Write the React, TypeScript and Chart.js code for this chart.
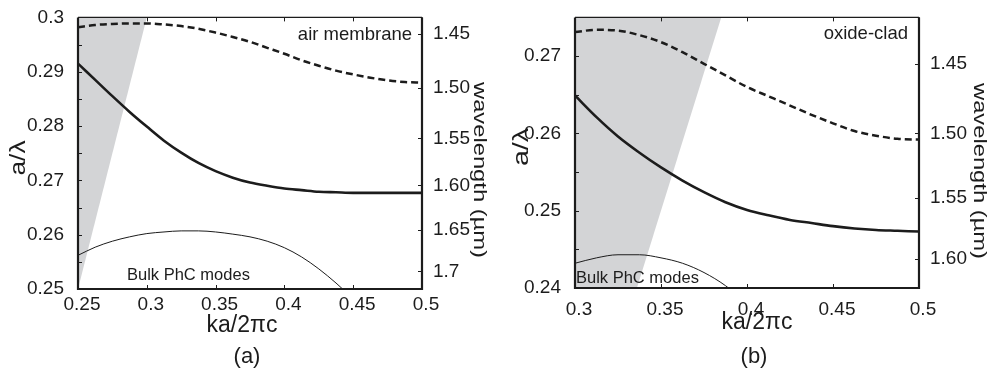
import React, { useEffect, useRef } from "react";
import { Chart, registerables } from "chart.js";

Chart.register(...registerables);

const FONT = "'Liberation Sans', Arial, Helvetica, sans-serif";
const INK = "#1c1c1c";
const GREY = "#d3d4d6";

// ---------- panel (a): air membrane ----------
const kA = [0.25, 0.2625, 0.275, 0.2875, 0.3, 0.3125, 0.325, 0.3375, 0.35, 0.3625, 0.375, 0.3875, 0.4, 0.4125, 0.425, 0.4375, 0.45, 0.4625, 0.475, 0.4875, 0.5];
const upperA = [0.2982, 0.2986, 0.2988, 0.2989, 0.2989, 0.2987, 0.2984, 0.2979, 0.2972, 0.2964, 0.2955, 0.2944, 0.2933, 0.2921, 0.2911, 0.2902, 0.2895, 0.2889, 0.2884, 0.2881, 0.288];
const lowerA = [0.2915, 0.2885, 0.2855, 0.2826, 0.2799, 0.2773, 0.2751, 0.2732, 0.2717, 0.2705, 0.2696, 0.269, 0.2685, 0.2682, 0.2679, 0.2678, 0.2677, 0.2677, 0.2677, 0.2677, 0.2677];
const bulkKA = [0.25, 0.2625, 0.275, 0.2875, 0.3, 0.3125, 0.325, 0.3375, 0.35, 0.3625, 0.375, 0.3875, 0.4, 0.4125, 0.425, 0.4375, 0.45];
const bulkA = [0.2562, 0.2577, 0.2588, 0.2596, 0.2602, 0.2605, 0.2607, 0.2607, 0.2605, 0.2601, 0.2596, 0.2588, 0.2576, 0.2559, 0.2537, 0.2511, 0.2482];
const lightKA = [0.25, 0.3];
const lightFA = [0.25, 0.3];
const xTicksA = [0.25, 0.3, 0.35, 0.4, 0.45, 0.5];
const xLabelsA = ["0.25", "0.3", "0.35", "0.4", "0.45", "0.5"];
const yTicksA = [0.25, 0.26, 0.27, 0.28, 0.29, 0.3];
const yLabelsA = ["0.25", "0.26", "0.27", "0.28", "0.29", "0.3"];
const yMarksA = [0.25, 0.255, 0.26, 0.265, 0.27, 0.275, 0.28, 0.285, 0.29, 0.295, 0.3];
const wlA = [1.45, 1.5, 1.55, 1.6, 1.65, 1.7];
const wlLabelsA = ["1.45", "1.50", "1.55", "1.60", "1.65", "1.7"];
const latticeA = 0.4305;

// ---------- panel (b): oxide-clad ----------
const kB = [0.3, 0.3125, 0.325, 0.3375, 0.35, 0.3625, 0.375, 0.3875, 0.4, 0.4125, 0.425, 0.4375, 0.45, 0.4625, 0.475, 0.4875, 0.5];
const upperB = [0.2731, 0.2734, 0.2733, 0.2727, 0.2718, 0.2705, 0.269, 0.2675, 0.266, 0.2648, 0.2636, 0.2624, 0.2613, 0.2603, 0.2597, 0.2593, 0.2592];
const lowerB = [0.2649, 0.2621, 0.2596, 0.2575, 0.2556, 0.2539, 0.2524, 0.2511, 0.2501, 0.2494, 0.2488, 0.2484, 0.248, 0.2477, 0.2475, 0.2474, 0.2473];
const bulkKB = [0.3, 0.3125, 0.325, 0.3375, 0.35, 0.3625, 0.375, 0.3875, 0.4];
const bulkB = [0.2432, 0.2439, 0.2443, 0.2443, 0.2439, 0.2432, 0.242, 0.2403, 0.238];
const lightKB = [0.3, 0.385];
const lightFB = [0.2143, 0.275];
const xTicksB = [0.3, 0.35, 0.4, 0.45, 0.5];
const xLabelsB = ["0.3", "0.35", "0.4", "0.45", "0.5"];
const yTicksB = [0.24, 0.25, 0.26, 0.27];
const yLabelsB = ["0.24", "0.25", "0.26", "0.27"];
const yMarksB = [0.24, 0.245, 0.25, 0.255, 0.26, 0.265, 0.27, 0.275];
const wlB = [1.45, 1.5, 1.55, 1.6];
const wlLabelsB = ["1.45", "1.50", "1.55", "1.60"];
const latticeB = 0.39;

type TextItem = {
  text: string;
  x: number;
  y: number;
  size: number;
  align?: CanvasTextAlign;
  baseline?: CanvasTextBaseline;
  rot?: number;
  sx?: number;
};

type PanelCfg = {
  k: number[];
  upper: number[];
  lower: number[];
  bulkK: number[];
  bulk: number[];
  lightK: number[];
  lightF: number[];
  xMin: number;
  xMax: number;
  yMin: number;
  yMax: number;
  xTicks: number[];
  xLabels: string[];
  yTicks: number[];
  yLabels: string[];
  yMarks: number[];
  wl: number[];
  wlLabels: string[];
  lattice: number;
  padTop: number;
  leftW: number;
  rightW: number;
  bottomH: number;
  xPad: number;
  texts: TextItem[];
};

const panelA: PanelCfg = {
  k: kA, upper: upperA, lower: lowerA, bulkK: bulkKA, bulk: bulkA, lightK: lightKA, lightF: lightFA,
  xMin: 0.25, xMax: 0.5, yMin: 0.25, yMax: 0.3,
  xTicks: xTicksA, xLabels: xLabelsA, yTicks: yTicksA, yLabels: yLabelsA, yMarks: yMarksA,
  wl: wlA, wlLabels: wlLabelsA, lattice: latticeA,
  padTop: 15, leftW: 78, rightW: 73, bottomH: 81, xPad: -4,
  texts: [
    { text: "air membrane", x: 412, y: 40, size: 18.5, align: "right", baseline: "alphabetic" },
    { text: "Bulk PhC modes", x: 127, y: 280, size: 16.5, align: "left", baseline: "alphabetic" },
    { text: "ka/2\u03c0c", x: 242, y: 332, size: 23, align: "center", baseline: "alphabetic" },
    { text: "(a)", x: 247, y: 363, size: 22, align: "center", baseline: "alphabetic" },
    { text: "a/\u03bb", x: 19, y: 158, size: 22, align: "center", baseline: "middle", rot: -Math.PI / 2, sx: 1.2 },
    { text: "wavelength (\u00b5m)", x: 479, y: 170, size: 19, align: "center", baseline: "middle", rot: Math.PI / 2, sx: 1.25 },
  ],
};

const panelB: PanelCfg = {
  k: kB, upper: upperB, lower: lowerB, bulkK: bulkKB, bulk: bulkB, lightK: lightKB, lightF: lightFB,
  xMin: 0.3, xMax: 0.5, yMin: 0.24, yMax: 0.275,
  xTicks: xTicksB, xLabels: xLabelsB, yTicks: yTicksB, yLabels: yLabelsB, yMarks: yMarksB,
  wl: wlB, wlLabels: wlLabelsB, lattice: latticeB,
  padTop: 13, leftW: 80, rightW: 71, bottomH: 82, xPad: 2,
  texts: [
    { text: "oxide-clad", x: 413, y: 39, size: 18.5, align: "right", baseline: "alphabetic" },
    { text: "Bulk PhC modes", x: 81, y: 283, size: 16.5, align: "left", baseline: "alphabetic" },
    { text: "ka/2\u03c0c", x: 262, y: 329, size: 23, align: "center", baseline: "alphabetic" },
    { text: "(b)", x: 259, y: 363, size: 22, align: "center", baseline: "alphabetic" },
    { text: "a/\u03bb", x: 27, y: 147, size: 22, align: "center", baseline: "middle", rot: -Math.PI / 2, sx: 1.3 },
    { text: "wavelength (\u00b5m)", x: 484, y: 171, size: 19, align: "center", baseline: "middle", rot: Math.PI / 2, sx: 1.25 },
  ],
};

const toXY = (xs: number[], ys: number[]) => xs.map((x, i) => ({ x, y: ys[i] }));

function makeFramePlugin(cfg: PanelCfg) {
  return {
    id: "frame",
    afterDraw(chart: any) {
      const { ctx, chartArea, scales } = chart;
      const { left, right, top, bottom } = chartArea;
      const TL = 4;
      ctx.save();
      ctx.strokeStyle = INK;
      ctx.lineWidth = 1;
      ctx.beginPath();
      cfg.xTicks.forEach((v) => {
        const px = Math.round(scales.x.getPixelForValue(v)) + 0.5;
        ctx.moveTo(px, bottom);
        ctx.lineTo(px, bottom - TL);
        ctx.moveTo(px, top);
        ctx.lineTo(px, top + TL);
      });
      cfg.yMarks.forEach((v) => {
        const py = Math.round(scales.y.getPixelForValue(v)) + 0.5;
        ctx.moveTo(left, py);
        ctx.lineTo(left + TL, py);
      });
      cfg.wl.forEach((w) => {
        const py = Math.round(scales.y1.getPixelForValue(cfg.lattice / w)) + 0.5;
        ctx.moveTo(right, py);
        ctx.lineTo(right - TL, py);
      });
      ctx.stroke();

      ctx.lineWidth = 2.2;
      ctx.beginPath();
      ctx.moveTo(left, top);
      ctx.lineTo(left, bottom);
      ctx.lineTo(right, bottom);
      ctx.lineTo(right, top);
      ctx.stroke();
      ctx.lineWidth = 1.3;
      ctx.beginPath();
      ctx.moveTo(left, top);
      ctx.lineTo(right, top);
      ctx.stroke();

      ctx.fillStyle = INK;
      cfg.texts.forEach((t) => {
        ctx.save();
        ctx.font = `${t.size}px ${FONT}`;
        ctx.textAlign = t.align || "left";
        ctx.textBaseline = t.baseline || "alphabetic";
        ctx.translate(t.x, t.y);
        if (t.rot) ctx.rotate(t.rot);
        if (t.sx) ctx.scale(t.sx, 1);
        ctx.fillText(t.text, 0, 0);
        ctx.restore();
      });
      ctx.restore();
    },
  };
}

function Panel({ cfg, left }: { cfg: PanelCfg; left: number }) {
  const ref = useRef<HTMLCanvasElement | null>(null);
  useEffect(() => {
    if (!ref.current) return;
    const tickFont = { family: FONT, size: 19 };
    const lineBase = {
      pointRadius: 0,
      fill: false,
      borderColor: INK,
      cubicInterpolationMode: "monotone" as const,
      order: 0,
    };
    const chart = new Chart(ref.current, {
      type: "line",
      data: {
        datasets: [
          { ...lineBase, data: toXY(cfg.k, cfg.upper), borderWidth: 2.5, borderDash: [7, 4] },
          { ...lineBase, data: toXY(cfg.k, cfg.lower), borderWidth: 2.6 },
          { ...lineBase, data: toXY(cfg.bulkK, cfg.bulk), borderWidth: 1 },
          {
            data: toXY(cfg.lightK, cfg.lightF),
            pointRadius: 0,
            borderWidth: 0,
            borderColor: "rgba(0,0,0,0)",
            backgroundColor: GREY,
            fill: "end",
            tension: 0,
            order: 5,
          },
        ],
      },
      options: {
        responsive: false,
        animation: false,
        events: [],
        layout: { padding: { top: cfg.padTop, left: 0, right: 0, bottom: 0 } },
        plugins: { legend: { display: false }, tooltip: { enabled: false } },
        scales: {
          x: {
            type: "linear",
            position: "bottom",
            min: cfg.xMin,
            max: cfg.xMax,
            grid: { display: false },
            border: { display: false },
            ticks: {
              autoSkip: false,
              maxRotation: 0,
              padding: cfg.xPad,
              labelOffset: 4,
              color: INK,
              font: tickFont,
              callback: (_v: any, i: number) => cfg.xLabels[i],
            },
            afterBuildTicks: (s: any) => {
              s.ticks = cfg.xTicks.map((value) => ({ value }));
            },
            afterFit: (s: any) => {
              s.height = cfg.bottomH;
            },
          },
          y: {
            type: "linear",
            position: "left",
            min: cfg.yMin,
            max: cfg.yMax,
            grid: { display: false },
            border: { display: false },
            ticks: {
              autoSkip: false,
              padding: 6,
              color: INK,
              font: tickFont,
              callback: (_v: any, i: number) => cfg.yLabels[i],
            },
            afterBuildTicks: (s: any) => {
              s.ticks = cfg.yTicks.map((value) => ({ value }));
            },
            afterFit: (s: any) => {
              s.width = cfg.leftW;
            },
          },
          y1: {
            type: "linear",
            position: "right",
            min: cfg.yMin,
            max: cfg.yMax,
            grid: { display: false },
            border: { display: false },
            ticks: {
              autoSkip: false,
              padding: 3,
              color: INK,
              font: tickFont,
              callback: (_v: any, i: number) => cfg.wlLabels[i],
            },
            afterBuildTicks: (s: any) => {
              s.ticks = cfg.wl.map((w) => ({ value: cfg.lattice / w }));
            },
            afterFit: (s: any) => {
              s.width = cfg.rightW;
            },
          },
        },
      } as any,
      plugins: [makeFramePlugin(cfg)],
    });
    return () => chart.destroy();
  }, [cfg]);
  return (
    <canvas
      ref={ref}
      width={495}
      height={370}
      style={{ position: "absolute", left, top: 0, width: 495, height: 370 }}
    />
  );
}

export default function App() {
  return (
    <div style={{ position: "fixed", left: 0, top: 0, width: 990, height: 370, background: "#fff", overflow: "hidden" }}>
      <Panel cfg={panelA} left={0} />
      <Panel cfg={panelB} left={495} />
    </div>
  );
}
